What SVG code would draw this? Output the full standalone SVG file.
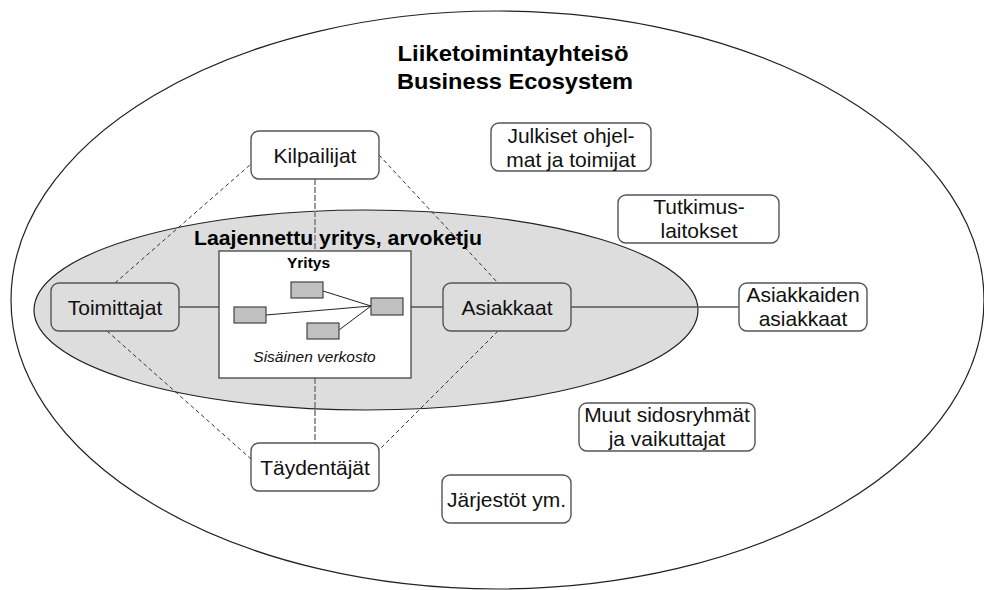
<svg xmlns="http://www.w3.org/2000/svg" width="984" height="590" viewBox="0 0 984 590">
<style>
  .node { fill: #ffffff; stroke: #555555; stroke-width: 1.4; }
  .node.in { fill: #dddddd; }
  .lbl { font-family: "Liberation Sans", Arial, sans-serif; font-size: 21px; fill: #111111; text-anchor: middle; }
  .bold { font-family: "Liberation Sans", Arial, sans-serif; font-weight: bold; fill: #000000; text-anchor: middle; }
  .solid { stroke: #555555; stroke-width: 1.5; fill: none; }
  .dash { stroke: #333333; stroke-width: 1; stroke-dasharray: 4 3; fill: none; }
  .vdash { stroke: #808080; stroke-width: 1.6; stroke-dasharray: 6 2; fill: none; }
  .mini { fill: #c0c0c0; stroke: #444444; stroke-width: 1.2; }
  .thin { stroke: #222222; stroke-width: 1; fill: none; }
</style>

<g id="ecosystem">
  <ellipse cx="497.5" cy="300" rx="486.5" ry="289" fill="#ffffff" stroke="#222222" stroke-width="1.2"/>
  <text class="bold" x="513" y="61" font-size="22.5" textLength="231" lengthAdjust="spacingAndGlyphs">Liiketoimintayhteisö</text>
  <text class="bold" x="515" y="89" font-size="22.5" textLength="236" lengthAdjust="spacingAndGlyphs">Business Ecosystem</text>
</g>

<g id="extended">
  <ellipse cx="366" cy="310" rx="332" ry="100" fill="#dddddd" stroke="#222222" stroke-width="1.2"/>
</g>

<g id="connectors">
  <line class="vdash" x1="315" y1="179" x2="315" y2="251"/>
  <line class="vdash" x1="315" y1="378" x2="315" y2="443"/>
  <line class="dash" x1="115" y1="283" x2="251" y2="164"/>
  <line class="dash" x1="379" y1="155" x2="498" y2="283"/>
  <line class="dash" x1="107" y1="331" x2="251" y2="459"/>
  <line class="dash" x1="498" y1="331" x2="379" y2="450"/>
  <line class="solid" x1="179" y1="307" x2="219" y2="307"/>
  <line class="solid" x1="411" y1="307" x2="443" y2="307"/>
  <line class="solid" x1="571" y1="307" x2="739" y2="307"/>
</g>

<g id="extended-label">
  <text class="bold" x="338" y="245" font-size="20" textLength="288" lengthAdjust="spacingAndGlyphs">Laajennettu yritys, arvoketju</text>
</g>

<g id="yritys">
  <rect x="219" y="251" width="192" height="127" fill="#ffffff" stroke="#444444" stroke-width="1.3"/>
  <text class="bold" x="308.5" y="268" font-size="15" textLength="43" lengthAdjust="spacingAndGlyphs">Yritys</text>
  <line class="thin" x1="323" y1="291" x2="371" y2="306"/>
  <line class="thin" x1="266" y1="315" x2="371" y2="306"/>
  <line class="thin" x1="339" y1="330" x2="371" y2="306"/>
  <rect class="mini" x="291" y="282" width="32" height="16"/>
  <rect class="mini" x="234" y="307" width="32" height="16"/>
  <rect class="mini" x="307" y="323" width="32" height="16"/>
  <rect class="mini" x="371" y="298" width="32" height="17"/>
  <text x="314.5" y="362" font-family="Liberation Sans, Arial, sans-serif" font-size="15.5" font-style="italic" fill="#111111" text-anchor="middle">Sisäinen verkosto</text>
</g>

<g id="toimittajat">
  <rect class="node in" x="51" y="283" width="128" height="48" rx="8"/>
  <text class="lbl" x="115" y="315">Toimittajat</text>
</g>

<g id="asiakkaat">
  <rect class="node in" x="443" y="283" width="128" height="48" rx="8"/>
  <text class="lbl" x="507" y="315">Asiakkaat</text>
</g>

<g id="kilpailijat">
  <rect class="node" x="251" y="131" width="128" height="48" rx="8"/>
  <text class="lbl" x="315" y="163">Kilpailijat</text>
</g>

<g id="taydentajat">
  <rect class="node" x="251" y="443" width="128" height="48" rx="8"/>
  <text class="lbl" x="315" y="475">Täydentäjät</text>
</g>

<g id="asiakkaiden-asiakkaat">
  <rect class="node" x="739" y="283" width="128" height="48" rx="8"/>
  <text class="lbl" x="803" y="302">Asiakkaiden</text>
  <text class="lbl" x="803" y="326">asiakkaat</text>
</g>

<g id="julkiset">
  <rect class="node" x="491" y="123" width="160" height="48" rx="8"/>
  <text class="lbl" x="571" y="143">Julkiset ohjel-</text>
  <text class="lbl" x="571" y="167">mat ja toimijat</text>
</g>

<g id="tutkimuslaitokset">
  <rect class="node" x="618" y="195" width="161" height="48" rx="8"/>
  <text class="lbl" x="699" y="214">Tutkimus-</text>
  <text class="lbl" x="699" y="238">laitokset</text>
</g>

<g id="muut">
  <rect class="node" x="579" y="403" width="176" height="48" rx="8"/>
  <text class="lbl" x="667" y="422">Muut sidosryhmät</text>
  <text class="lbl" x="667" y="446">ja vaikuttajat</text>
</g>

<g id="jarjestot">
  <rect class="node" x="442" y="475" width="129" height="48" rx="8"/>
  <text class="lbl" x="506.5" y="507">Järjestöt ym.</text>
</g>
</svg>
